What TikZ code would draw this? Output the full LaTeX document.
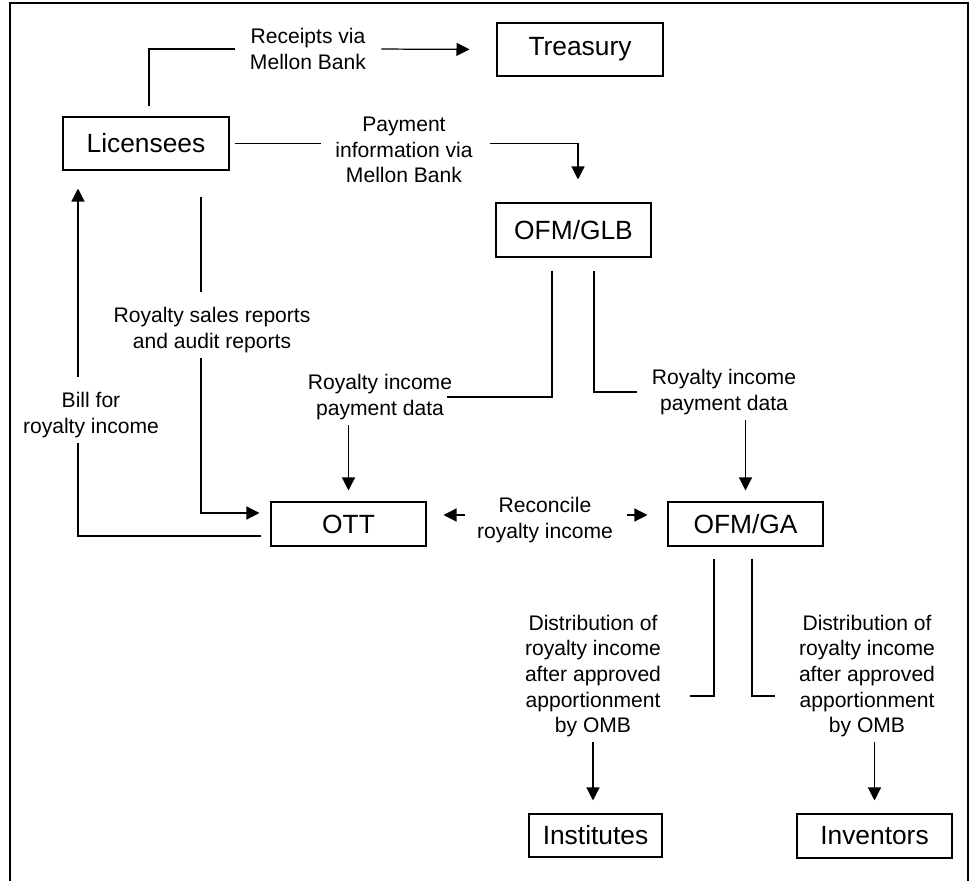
\documentclass[tikz,border=0pt]{standalone}
\usepackage{fontspec}
\setmainfont{Liberation Sans}
\usepackage{tikz}
\usetikzlibrary{positioning}
\usetikzlibrary{calc}
\usetikzlibrary{arrows.meta}

\begin{document}
\begin{tikzpicture}[x=0.02cm, y=-0.02cm,
    entity/.style={draw, line width=0.6pt, inner sep=0pt, font=\fontsize{15}{18}\selectfont},
    note/.style={inner sep=0pt, align=center, font=\fontsize{12}{14.6}\selectfont},
    wire/.style={line width=0.7pt},
    flow/.style={line width=0.7pt, -{Triangle[length=7.4pt, width=7.4pt]}},
    outerframe/.style={line width=1.3pt}]
    \useasboundingbox (0,0) rectangle (975,881);

    \node[entity, minimum width=3.32cm, minimum height=1.06cm] (lic) at (146,143.5) {Licensees};
    \node[entity, minimum width=3.32cm, minimum height=1.06cm] (tre) at (580,49.5) {Treasury};
    \node[entity, minimum width=3.1cm, minimum height=1.08cm] (glb) at (573.5,230) {OFM/GLB};
    \node[entity, minimum width=3.1cm, minimum height=0.88cm] (ott) at (348.5,524) {OTT};
    \node[entity, minimum width=3.1cm, minimum height=0.88cm] (ga) at (745.5,524) {OFM/GA};
    \node[entity, minimum width=2.66cm, minimum height=0.86cm] (ins) at (595.5,835.5) {Institutes};
    \node[entity, minimum width=3.1cm, minimum height=0.88cm] (inv) at (874.5,836) {Inventors};

    \node[note] (rcp) at (308,49) {Receipts via\\Mellon Bank};
    \node[note] (pay) at (404,150) {Payment\\information via\\Mellon Bank};
    \node[note] (srp) at (212,330) {Royalty sales reports\\and audit reports};
    \node[note] (bil) at (91,415) {Bill for\\royalty income};
    \node[note] (gott) at (380,397) {Royalty income\\payment data};
    \node[note] (gga) at (724,392) {Royalty income\\payment data};
    \node[note] (rec) at (545,520) {Reconcile\\royalty income};
    \node[note] (gins) at (593,676) {Distribution of\\royalty income\\after approved\\apportionment\\by OMB};
    \node[note] (ginv) at (867,676) {Distribution of\\royalty income\\after approved\\apportionment\\by OMB};

    \coordinate (s1) at ($(lic.south)+(55,0)$);
    \coordinate (b1) at ($(lic.south)+(-68,0)$);
    \coordinate (rl) at ($(ott.east)+(0,-9)$);

    \draw[wire, shorten <=0.2cm, shorten >=0.3cm] ($(lic.north)+(3,0)$) |- (rcp.west);
    \draw[flow, shorten <=0.3cm, shorten >=0.54cm] (rcp.east) -- (tre.west);

    \draw[wire, shorten <=0.1cm, shorten >=0.28cm] (lic.east) -- (lic.east -| pay.west);
    \draw[flow, shorten <=0.34cm, shorten >=0.46cm] (pay.east |- lic.east) -| ($(glb.north)+(4.5,0)$);

    \draw[wire, shorten <=0.52cm, shorten >=0.3cm] (s1) -- (s1 |- srp.north);
    \draw[flow, shorten <=0.11cm, shorten >=0.22cm] (s1 |- srp.south) |- ($(ott.west)+(0,-11)$);

    \draw[wire, shorten <=0.18cm, shorten >=0.11cm] ($(ott.west)+(0,12)$) -| (b1 |- bil.south);
    \draw[flow, shorten <=0.3cm, shorten >=0.36cm] (b1 |- bil.north) -- (b1);

    \draw[wire, shorten <=0.26cm, shorten >=-0.1cm] ($(glb.south)+(-21.5,0)$) |- (gott.east);
    \draw[flow, shorten <=0.11cm, shorten >=0.22cm] (gott.south -| ott.north) -- (ott.north);

    \draw[wire, shorten <=0.26cm, shorten >=0.3cm] ($(glb.south)+(20.5,0)$) |- (gga.west);
    \draw[flow, shorten <=0.11cm, shorten >=0.22cm] (gga.south -| ga.north) -- (ga.north);

    \draw[flow, shorten <=0.23cm, shorten >=0.34cm] (rec.west |- rl) -- (rl);
    \draw[flow, shorten <=0.27cm, shorten >=0.4cm] (rec.east |- rl) -- (rl -| ga.west);

    \draw[wire, shorten <=0.24cm, shorten >=0.57cm] ($(ga.south)+(-31.5,0)$) |- ($(gins.east)+(0,20)$);
    \draw[flow, shorten <=0.1cm, shorten >=0.26cm] (gins.south) -- (gins.south |- ins.north);

    \draw[wire, shorten <=0.24cm, shorten >=0.47cm] ($(ga.south)+(6.5,0)$) |- ($(ginv.west)+(0,20)$);
    \draw[flow, shorten <=0.1cm, shorten >=0.26cm] (ginv.south -| inv.north) -- (inv.north);

    \draw[outerframe] (10,881) |- (968,3) -- (968,881);
\end{tikzpicture}
\end{document}
